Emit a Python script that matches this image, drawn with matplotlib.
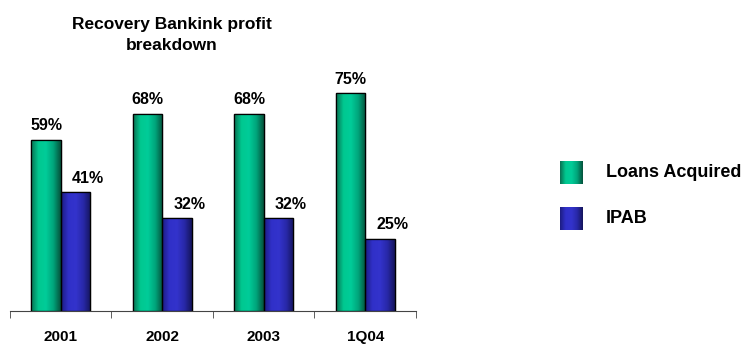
import numpy as np
import matplotlib.pyplot as plt
from matplotlib.colors import LinearSegmentedColormap

# Data
categories = ['2001', '2002', '2003', '1Q04']
loans_acquired = [59, 68, 68, 75]
ipab = [41, 32, 32, 25]
series_names = ['Loans Acquired', 'IPAB']

plt.rcParams['font.family'] = ['Liberation Sans', 'DejaVu Sans']

fig = plt.figure(figsize=(7.44, 3.44), dpi=100)
W, H = 744, 344
ax = fig.add_axes([10 / W, 1 - 311 / H, 406 / W, (311 - 79) / H])

green_cmap = LinearSegmentedColormap.from_list(
    'g', ['#0a6e50', '#00c890', '#00cc99', '#00a47a', '#05503a'])
blue_cmap = LinearSegmentedColormap.from_list(
    'b', ['#1c1c80', '#3030c8', '#3333cc', '#2828a8', '#14145a'])

x = np.arange(len(categories))
w = 0.29
bars1 = ax.bar(x - w / 2, loans_acquired, w, color='#00cc99', edgecolor='black', linewidth=0.9, zorder=2)
bars2 = ax.bar(x + w / 2, ipab, w, color='#3333cc', edgecolor='black', linewidth=0.9, zorder=2)

grad = np.linspace(0, 1, 256).reshape(1, -1)
for bars, cmap in [(bars1, green_cmap), (bars2, blue_cmap)]:
    for b in bars:
        x0, y0 = b.get_x(), b.get_y()
        im = ax.imshow(grad, cmap=cmap, aspect='auto', zorder=2.5,
                       extent=[x0, x0 + b.get_width(), y0, y0 + b.get_height()])
        im.set_clip_path(b)
        # outline over the gradient
        ax.add_patch(plt.Rectangle((x0, y0), b.get_width(), b.get_height(),
                                   fill=False, edgecolor='black', linewidth=0.9, zorder=3))

# value labels; the IPAB ones sit a bit right of their bars, as in the original
for bars, vals, shift in [(bars1, loans_acquired, 0.0), (bars2, ipab, 0.12)]:
    for b, v in zip(bars, vals):
        ax.text(b.get_x() + b.get_width() / 2 + shift, v + 4.8, f'{v}%', ha='center', va='center',
                fontsize=11.5, fontweight='bold')

ax.set_xlim(-0.5, len(categories) - 0.5)
ax.set_ylim(0, 80)
for s in ['top', 'right', 'left']:
    ax.spines[s].set_visible(False)
ax.spines['bottom'].set_color('#444444')
ax.set_yticks([])
ax.set_xticks(np.arange(len(categories) + 1) - 0.5, minor=True)
ax.set_xticks(x)
ax.set_xticklabels(categories, fontsize=11, fontweight='bold')
ax.tick_params(axis='x', which='major', length=0, pad=13.5)
ax.tick_params(axis='x', which='minor', length=5, direction='out', color='#444444')

fig.text(172 / W, 1 - 35 / H, 'Recovery Bankink profit\nbreakdown', ha='center', va='center',
         fontsize=12.5, fontweight='bold', linespacing=1.5)

# Legend
sq = 23
for i, (name, cmap) in enumerate(zip(series_names, [green_cmap, blue_cmap])):
    yc = 172.5 + i * 46
    lax = fig.add_axes([560 / W, 1 - (yc + sq / 2) / H, sq / W, sq / H])
    lax.imshow(grad, cmap=cmap, aspect='auto')
    lax.axis('off')
    fig.text(606 / W, 1 - yc / H, name, ha='left', va='center', fontsize=13, fontweight='bold')

fig.savefig('out.png', dpi=100)
